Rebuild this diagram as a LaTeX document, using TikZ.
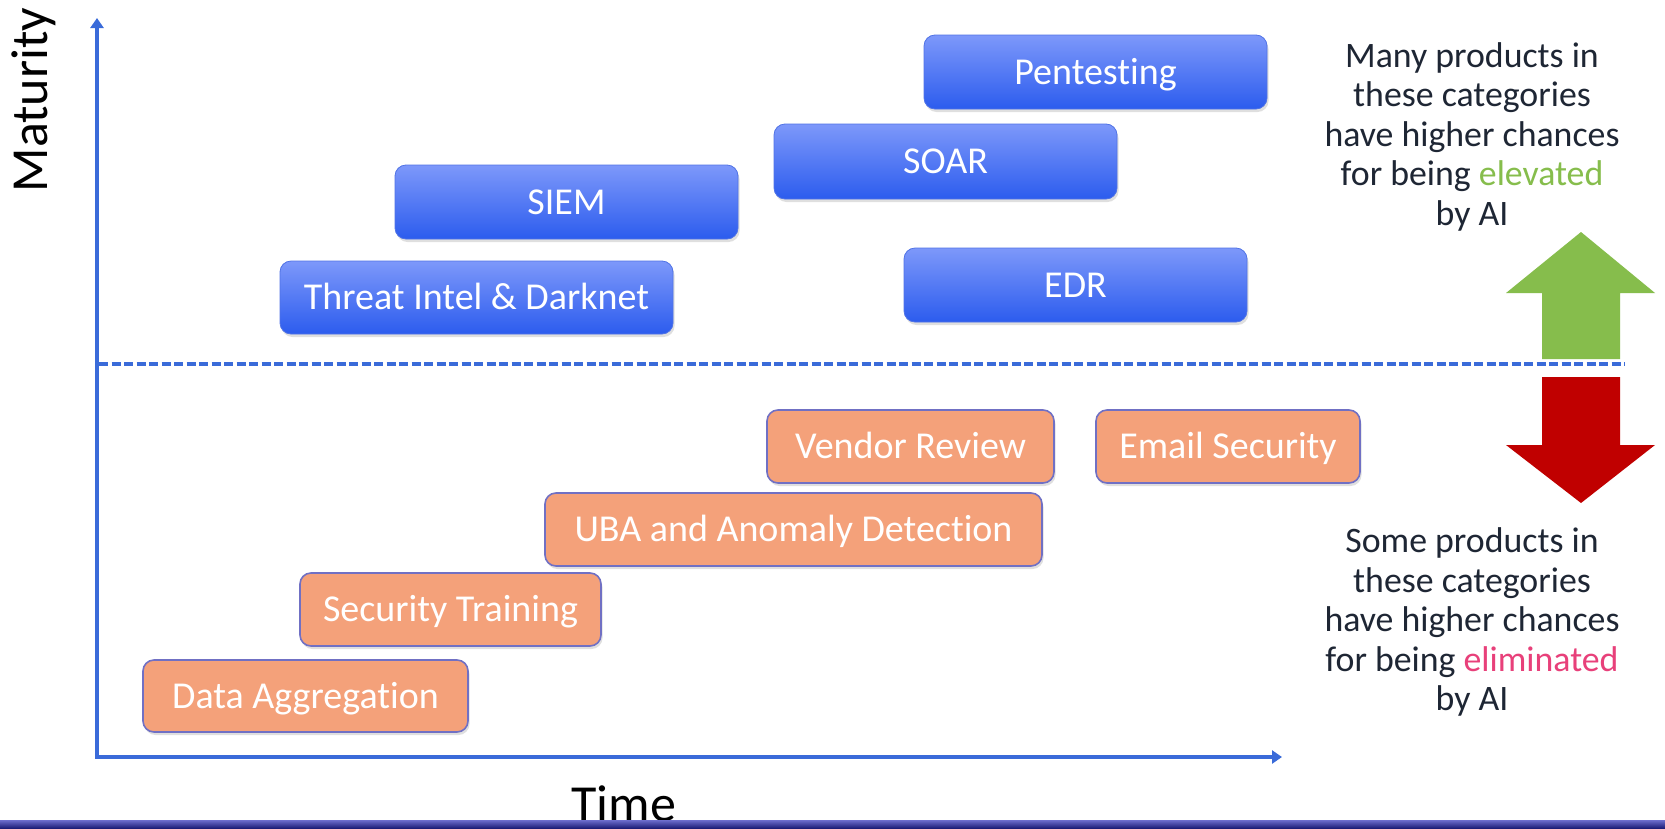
\documentclass[tikz,border=0pt]{standalone}
\usepackage{fontspec}
\setmainfont{Carlito}[Ligatures={NoCommon,NoContextual},RawFeature={-calt}]
\usetikzlibrary{arrows.meta,shadows}

\definecolor{axisblue}{RGB}{58,107,217}
\definecolor{boxtop}{RGB}{125,152,250}
\definecolor{boxbot}{RGB}{44,92,238}
\definecolor{boxedge}{RGB}{80,115,230}
\definecolor{salmon}{RGB}{244,161,122}
\definecolor{salmonedge}{RGB}{112,112,196}
\definecolor{textdark}{RGB}{30,38,52}
\definecolor{upgreen}{RGB}{134,189,76}
\definecolor{downred}{RGB}{192,0,0}
\definecolor{elimpink}{RGB}{232,64,122}
\definecolor{bartop}{RGB}{110,110,205}
\definecolor{barbot}{RGB}{30,30,120}

\begin{document}
\begin{tikzpicture}[x=1pt,y=-1pt,
  catbox/.style={rectangle, rounded corners=11pt, inner sep=0pt, text=white,
    font=\fontsize{38}{44}\selectfont, text height=24.5pt, text depth=0pt},
  bluebox/.style={catbox, top color=boxtop, bottom color=boxbot, draw=boxedge,
    line width=0.8pt,
    drop shadow={opacity=0.25, shadow xshift=1.5pt, shadow yshift=-3pt}},
  orangebox/.style={catbox, fill=salmon, draw=salmonedge, line width=1.6pt,
    drop shadow={opacity=0.25, shadow xshift=1.5pt, shadow yshift=-3pt}},
  axisline/.style={draw=axisblue, line width=4.5pt, line join=miter},
  sidetext/.style={align=center, text=textdark, inner sep=0pt,
    font=\fontsize{35.8}{39.5}\selectfont},
  axislabel/.style={text=black, inner sep=0pt, font=\fontsize{52}{60}\selectfont}
]
\useasboundingbox (0,0) rectangle (1665,828);
\fill[white] (0,0) rectangle (1665,828);

% axes
\coordinate (ytip) at (97,18);
\coordinate (origin) at (97,757);
\coordinate (xtip) at (1282,757);
\draw[axisline, {Triangle[width=13pt,length=10pt]}-{Triangle[width=13pt,length=10pt]}]
  (ytip) -- (origin) -- (xtip);

% threshold line
\coordinate (dashL) at (99,364);
\coordinate (dashR) at (1625,364);
\draw[axisblue, line width=3.5pt, dash pattern=on 9pt off 3.5pt] (dashL) -- (dashR);

% axis labels
\node[axislabel, rotate=90, anchor=base] (maturity) at (47,100) {Maturity};
\node[axislabel, anchor=base] (time) at (624,821) {Time};

% categories above the line
\node[bluebox, minimum width=343pt, minimum height=74pt] (pent) at (1095.5,72) {Pentesting};
\node[bluebox, minimum width=343pt, minimum height=75pt] (soar) at (945.5,161.5) {SOAR};
\node[bluebox, minimum width=343pt, minimum height=74pt] (siem) at (566.5,202) {SIEM};
\node[bluebox, minimum width=343pt, minimum height=74pt] (edr) at (1075.5,285) {EDR};
\node[bluebox, minimum width=393pt, minimum height=73pt] (threat) at (476.5,297.5) {Threat Intel \& Darknet};

% categories below the line
\node[orangebox, minimum width=287pt, minimum height=73pt] (vendor) at (910.5,446.5) {Vendor Review};
\node[orangebox, minimum width=264pt, minimum height=73pt] (email) at (1228,446.5) {Email Security};
\node[orangebox, minimum width=497pt, minimum height=73pt] (uba) at (793.5,529.5) {UBA and Anomaly Detection};
\node[orangebox, minimum width=301pt, minimum height=73pt] (training) at (450.5,609.5) {Security Training};
\node[orangebox, minimum width=325pt, minimum height=72pt] (aggregation) at (305.5,696) {Data Aggregation};

% up / down arrows
\fill[upgreen] (1542,359) -- (1620,359) -- (1620,293) -- (1655,293) -- (1581,232)
  -- (1506,293) -- (1542,293) -- cycle;
\fill[downred] (1542,377) -- (1620,377) -- (1620,445) -- (1655,445) -- (1581,503)
  -- (1506,445) -- (1542,445) -- cycle;

% side notes
\node[sidetext, anchor=north] (uptext) at (1472,42)
  {Many products in\\these categories\\have higher chances\\for being \textcolor{upgreen}{elevated}\\by AI};
\node[sidetext, anchor=north] (downtext) at (1472,527.5)
  {Some products in\\these categories\\have higher chances\\for being \textcolor{elimpink}{eliminated}\\by AI};

% footer bar
\shade[top color=bartop, bottom color=barbot] (0,820) rectangle (1665,828);
\end{tikzpicture}
\end{document}
